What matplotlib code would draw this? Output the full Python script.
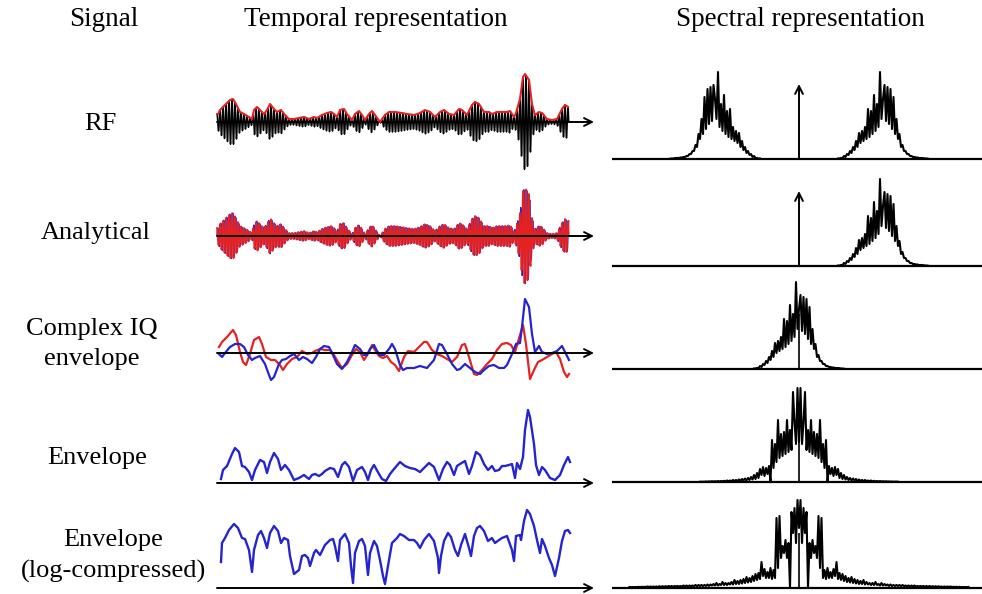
import matplotlib.pyplot as plt
import numpy as np

# ---- data (amplitudes in arbitrary units) ----
# RF envelope (red line, row 1) : time samples / amplitude
rf_env_t = [1, 3, 8, 13, 16, 19, 23, 27, 32, 35, 37, 40, 43, 47, 50, 53, 57, 60, 64, 68,
            72, 77, 82, 87, 92, 97, 100, 105, 110, 114, 117, 120, 123, 127, 130, 135, 138, 142, 145, 148,
            152, 155, 158, 163, 168, 172, 178, 185, 190, 197, 203, 208, 213, 218, 223, 227, 232, 237, 242, 245,
            250, 255, 258, 262, 267, 272, 275, 280, 285, 290, 293, 297, 299, 303, 306, 308, 312, 315, 318, 322,
            325, 330, 335, 340, 345, 348, 351]
rf_env_a = [8, 12, 17, 22, 23, 18, 10, 8, 5, 3, 12, 15, 12, 8, 12, 18, 13, 10, 12, 7,
            3, 3, 4, 5, 3, 5, 4, 7, 9, 10, 8, 5, 12, 13, 8, 2, 8, 11, 7, 2,
            8, 11, 7, 0, 7, 10, 10, 9, 8, 7, 9, 12, 10, 5, 10, 12, 8, 7, 13, 12,
            7, 17, 20, 18, 10, 10, 8, 10, 10, 10, 11, 5, 9, 23, 45, 48, 42, 18, 7, 10,
            9, 3, 2, 3, 13, 17, 15]

# complex IQ envelope (row 3): in-phase (red) and quadrature (blue)
iq_red_t = [2, 5, 10, 16, 19, 23, 26, 29, 33, 37, 42, 45, 49, 54, 58, 63, 66, 70, 75, 80,
            85, 90, 95, 98, 103, 108, 113, 117, 121, 125, 130, 135, 139, 143, 147, 152, 155, 158, 162, 166,
            170, 174, 178, 182, 187, 191, 197, 202, 207, 210, 215, 220, 225, 230, 235, 240, 245, 248, 252, 257,
            260, 265, 270, 275, 280, 285, 290, 294, 298, 303, 306, 309, 313, 317, 321, 325, 330, 335, 339, 343,
            347, 350, 352]
iq_red_a = [6, 11, 16, 23, 18, 1, -9, -12, -1, 13, 16, 9, -4, -7, -7, -12, -17, -11, -6, -4,
            2, -1, 0, 2, 4, 3, 3, -2, -9, -15, -11, -2, 4, 1, -7, 1, 8, 3, -3, -5,
            -3, -9, -12, -18, -4, 2, 1, 6, 11, 11, 3, -1, -3, -6, -9, -4, 8, 9, -4, -21,
            -22, -17, -11, -6, 3, 9, 10, 8, 1, 18, 28, 9, -26, -17, -9, -7, -4, -1, 1, -6,
            -19, -24, -21]
iq_blue_t = [2, 5, 8, 13, 18, 23, 27, 31, 35, 38, 43, 48, 52, 54, 57, 62, 65, 69, 73, 77,
             82, 86, 90, 95, 99, 103, 107, 112, 116, 120, 125, 130, 135, 138, 143, 147, 150, 153, 157, 160,
             163, 167, 172, 175, 178, 183, 186, 190, 197, 203, 210, 217, 222, 225, 230, 235, 240, 243, 248, 253,
             258, 263, 267, 272, 277, 282, 287, 290, 295, 299, 303, 305, 308, 312, 315, 318, 322, 325, 330, 335,
             340, 345, 348, 352]
iq_blue_a = [-1, -4, 0, 6, 9, 9, 6, -2, -7, -5, -3, -11, -22, -27, -24, -11, -7, -6, -3, -1,
             -7, -4, -6, -10, -4, 4, 7, 6, -2, -11, -16, -9, 1, 8, 4, -2, -2, 4, 8, 2,
             -2, -2, 4, 9, 4, -12, -17, -15, -15, -13, -15, -7, 9, 8, -1, -11, -17, -16, -11, -15,
             -19, -21, -17, -13, -12, -15, -15, -12, -1, 9, 10, 26, 54, 46, 19, 1, 7, 1, -1, 0,
             2, 7, 1, -7]

# envelope (row 4)
env_t = [4, 6, 10, 15, 18, 22, 25, 28, 32, 35, 38, 43, 47, 50, 53, 57, 61, 64, 68, 72,
         77, 82, 87, 92, 95, 98, 102, 105, 108, 113, 117, 121, 125, 128, 132, 136, 140, 145, 148, 151,
         154, 157, 162, 165, 169, 173, 177, 183, 188, 193, 198, 203, 207, 212, 217, 222, 226, 230, 233, 237,
         240, 243, 248, 252, 255, 259, 263, 267, 271, 275, 278, 282, 285, 288, 292, 295, 298, 300, 303, 306,
         308, 311, 313, 317, 319, 322, 325, 328, 333, 338, 343, 347, 351, 353]
env_a = [4, 13, 17, 29, 35, 31, 17, 16, 11, 3, 13, 23, 21, 10, 21, 30, 24, 13, 18, 13,
         3, 5, 8, 4, 8, 9, 7, 9, 12, 15, 14, 6, 18, 21, 16, 2, 13, 16, 11, 3,
         13, 18, 9, 4, 2, 9, 14, 21, 17, 15, 14, 11, 15, 20, 16, 3, 14, 21, 18, 8,
         17, 19, 22, 9, 17, 31, 28, 19, 13, 17, 12, 13, 17, 17, 18, 19, 5, 20, 14, 26,
         53, 73, 66, 39, 18, 8, 16, 13, 5, 3, 8, 18, 26, 21]

# log-compressed envelope (row 5)
log_t = [4, 5, 8, 12, 17, 21, 25, 28, 32, 35, 37, 41, 44, 47, 50, 53, 57, 61, 64, 67,
         71, 73, 77, 82, 85, 88, 91, 93, 97, 99, 103, 105, 108, 113, 116, 118, 121, 123, 128, 132,
         134, 136, 138, 142, 145, 148, 151, 153, 157, 160, 163, 166, 168, 172, 175, 180, 183, 187, 192, 197,
         200, 203, 207, 212, 217, 221, 222, 224, 227, 231, 234, 238, 241, 244, 248, 252, 254, 257, 260, 263,
         267, 271, 275, 278, 282, 285, 290, 295, 297, 299, 303, 304, 307, 310, 313, 317, 320, 323, 325, 328,
         332, 335, 338, 342, 345, 348, 351, 353]
log_a = [26, 45, 50, 58, 64, 60, 50, 49, 38, 16, 38, 53, 57, 50, 40, 55, 62, 57, 45, 50,
         48, 32, 14, 18, 32, 33, 30, 22, 35, 38, 33, 37, 43, 48, 49, 42, 27, 48, 54, 45,
         22, 5, 35, 47, 49, 42, 13, 35, 47, 42, 28, 12, 4, 28, 45, 50, 54, 52, 48, 48,
         45, 40, 48, 54, 47, 30, 15, 32, 47, 55, 51, 38, 32, 43, 54, 40, 32, 52, 60, 62,
         57, 47, 50, 45, 48, 50, 52, 38, 27, 52, 53, 48, 67, 78, 74, 62, 48, 35, 49, 42,
         30, 23, 12, 30, 47, 57, 58, 55]

# spectra (magnitude, sampled every spec_step around the band centre)
spec_step = 1.5
carrier_freq = 84
carrier_marker = 75
iq_spec = [0.5, 0.5, 1, 1, 3, 2, 5, 4, 8, 6, 12, 9, 18, 12, 26, 16, 28, 18, 32, 20,
           50, 22, 48, 25, 64, 28, 55, 32, 87, 40, 60, 74, 38, 72, 35, 70, 30, 62, 25, 40,
           20, 25, 12, 14, 8, 8, 5, 5, 3, 3, 2, 2, 1.5, 1.5, 1, 1, 1, 0.8, 0.5, 0.5, 0.3]
env_spec_half = [40, 94, 38, 60, 90, 32, 52, 30, 62, 28, 50, 26, 48, 24, 62, 20, 38, 14, 42, 0,
                 16, 8, 14, 6, 15, 7, 13, 4, 9, 3, 7, 2.5, 5, 2, 4, 1.5, 3.5, 1.5, 3, 1.2,
                 2.5, 1, 2, 1, 2, 0.8, 1.5, 0.8, 1.5, 0.6, 1.2, 0.6, 1, 0.5, 1, 0.5, 0.8, 0.4, 0.8, 0.4,
                 0.6, 0.3, 0.5, 0.3, 0.4, 0.3, 0.3]
log_spec_half = [60, 88, 45, 80, 55, 76, 0, 45, 30, 48, 35, 42, 30, 72, 20, 70, 10, 18, 9, 20,
                 10, 16, 10, 19, 12, 26, 9, 15, 8, 14, 7, 12, 6, 10, 5.5, 11, 5, 9, 4.5, 8,
                 4, 7, 4, 8, 3.5, 6, 3.5, 5, 3, 5, 3, 6, 3, 4, 2.5, 5, 2.5, 4, 2.5, 3.5,
                 2, 3.5, 2, 3, 2, 3, 2, 3, 1.8, 3, 1.8, 2.5, 1.8, 2.5, 1.5, 2.5, 1.5, 2.5, 1.5, 2,
                 1.5, 2, 1.5, 2, 1.2, 2, 1.2, 2, 1.2, 1.8, 1.2, 1.8, 1, 1.8, 1, 1.5, 1, 1.5, 1, 1.5,
                 1, 1.5, 1, 1.2, 1, 1.2, 0.8, 1.2, 0.8, 1, 0.8, 1, 0.8, 1]

row_labels = ['RF', 'Analytical', 'Complex IQ\nenvelope', 'Envelope', 'Envelope\n(log-compressed)']
headers = ['Signal', 'Temporal representation', 'Spectral representation']

RED = '#e52222'
BLUE = '#2424d0'
W, H = 982, 594
FONT = 'Liberation Serif'

fig = plt.figure(figsize=(W / 100, H / 100), dpi=100)


def px_axes(left, right, axis_y, up, down, x0):
    # axes placed in pixel units, data units == pixels
    ax = fig.add_axes([left / W, (H - axis_y - down) / H, (right - left) / W, (up + down) / H])
    ax.set_xlim(left - x0, right - x0)
    ax.set_ylim(-down, up)
    ax.axis('off')
    return ax


def arrow(ax, xy, xytext):
    ax.annotate('', xy=xy, xytext=xytext, zorder=5,
                arrowprops=dict(arrowstyle='->', lw=1.4, color='k', mutation_scale=14,
                                shrinkA=0, shrinkB=0))


def spec_axis(ax, centre_line=False):
    ax.hlines(0, -187, 185, color='k', lw=1.6, zorder=1)
    if centre_line:
        ax.vlines(0, 0, 55, color='k', lw=1.2, zorder=3)


rows_y = [122, 236, 353, 483, 588]
spec_y = [159, 266, 369, 482, 588]
t0 = 217
fc = 799

# ---- temporal column ----
t_dense = np.arange(0, 352, 0.25)
period = 3.0

ax = px_axes(205, 605, rows_y[0], 60, 52, t0)
env_d = np.interp(t_dense, rf_env_t, rf_env_a)
ax.plot(t_dense, env_d * np.cos(2 * np.pi * t_dense / period), color='k', lw=1.1)
arrow(ax, (377, 0), (0, 0))
ax.plot(rf_env_t, rf_env_a, color=RED, lw=1.5, zorder=6)

ax = px_axes(205, 605, rows_y[1], 60, 52, t0)
ax.plot(t_dense, env_d * np.sin(2 * np.pi * t_dense / period), color=BLUE, lw=1.0)
ax.plot(t_dense, env_d * np.cos(2 * np.pi * t_dense / period), color=RED, lw=1.3)
arrow(ax, (377, 0), (0, 0))

ax = px_axes(205, 605, rows_y[2], 62, 40, t0)
ax.plot(iq_red_t, iq_red_a, color=RED, lw=1.6)
ax.plot(iq_blue_t, iq_blue_a, color=BLUE, lw=1.6)
arrow(ax, (377, 0), (0, 0))

ax = px_axes(205, 605, rows_y[3], 82, 10, t0)
ax.plot(env_t, env_a, color=BLUE, lw=1.7)
arrow(ax, (377, 0), (0, 0))

ax = px_axes(205, 605, rows_y[4], 86, 6, t0)
ax.plot(log_t, log_a, color=BLUE, lw=1.7)
arrow(ax, (377, 0), (0, 0))

# ---- spectral column ----
f_iq = (np.arange(len(iq_spec)) - (len(iq_spec) - 1) / 2) * spec_step
iq_spec = np.array(iq_spec)
spec_lw = 1.5

ax = px_axes(600, 982, spec_y[0], 95, 8, fc)
spec_axis(ax)
ax.plot(f_iq + carrier_freq, iq_spec, color='k', lw=spec_lw)
ax.plot(-(f_iq + carrier_freq), iq_spec, color='k', lw=spec_lw)
arrow(ax, (0, carrier_marker), (0, 0))

ax = px_axes(600, 982, spec_y[1], 95, 8, fc)
spec_axis(ax)
ax.plot(f_iq + carrier_freq, iq_spec, color='k', lw=spec_lw)
arrow(ax, (0, carrier_marker), (0, 0))

ax = px_axes(600, 982, spec_y[2], 95, 8, fc)
spec_axis(ax, centre_line=True)
ax.plot(f_iq, iq_spec, color='k', lw=spec_lw)

for half, ay in [(env_spec_half, spec_y[3]), (log_spec_half, spec_y[4])]:
    full = np.array(half[:0:-1] + half)
    f = (np.arange(len(full)) - (len(half) - 1)) * spec_step
    ax = px_axes(600, 982, ay, 98, 5, fc)
    spec_axis(ax, centre_line=True)
    ax.plot(f, full, color='k', lw=spec_lw)

# ---- text ----
label_pos = [(100, 124), (96, 233), (92, 344), (97, 458), (113, 556)]
for s, (x, y) in zip(row_labels, label_pos):
    fig.text(x / W, 1 - y / H, s, ha='center', va='center', fontsize=19,
             family=FONT, linespacing=1.5)

for s, x in zip(headers, [104, 376, 800]):
    fig.text(x / W, 1 - 19 / H, s, ha='center', va='center', fontsize=19.5, family=FONT)

fig.savefig('out.png', dpi=100)
